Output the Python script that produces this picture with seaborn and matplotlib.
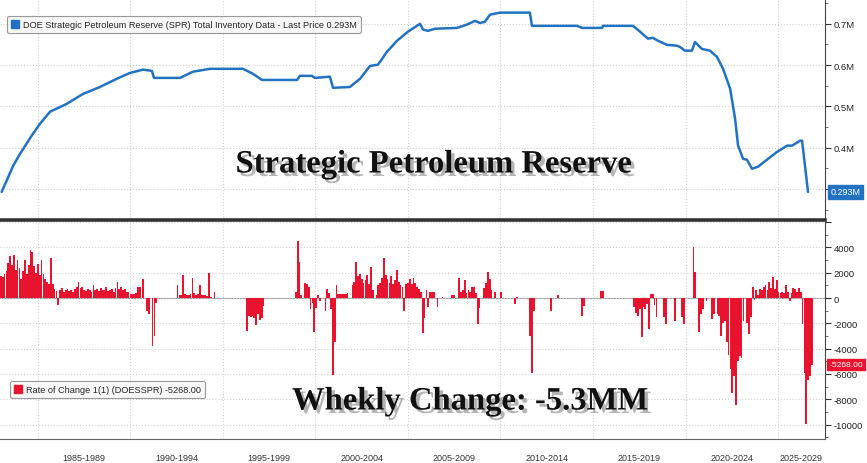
import numpy as np
import matplotlib
matplotlib.use("Agg")
import matplotlib.pyplot as plt
import matplotlib.patheffects as pe
from matplotlib.patches import Patch
from matplotlib.ticker import MultipleLocator, FuncFormatter
import seaborn as sns

# SPR inventory (millions of barrels shown as "M" on the axis)
spr_year = [1983.04, 1983.66, 1984.03, 1984.66, 1985.11, 1985.65, 1986.55, 1987.43, 1988.35, 1989.27,
            1989.97, 1990.68, 1991.16, 1991.27, 1992.68, 1993.38, 1994.30, 1996.08, 1996.62, 1997.11,
            1999.00, 1999.16, 1999.81, 1999.97, 2000.78, 2000.95, 2001.86, 2002.41, 2002.95, 2003.38,
            2003.86, 2004.41, 2005.00, 2005.65, 2005.81, 2006.08, 2006.46, 2007.65, 2008.19, 2008.62,
            2008.89, 2009.16, 2009.43, 2009.97, 2011.59, 2011.70, 2012.68, 2014.14, 2014.41, 2015.49,
            2015.54, 2017.16, 2017.54, 2017.97, 2018.24, 2018.51, 2019.00, 2019.54, 2019.70, 2019.97,
            2020.35, 2020.51, 2020.89, 2021.32, 2021.70, 2022.03, 2022.41, 2022.68, 2022.84, 2023.11,
            2023.32, 2023.59, 2023.92, 2024.46, 2024.95, 2025.49, 2025.76, 2026.19, 2026.30, 2026.62]
spr_level = [0.293, 0.356, 0.385, 0.429, 0.458, 0.487, 0.506, 0.530, 0.547, 0.567,
             0.581, 0.589, 0.586, 0.569, 0.569, 0.584, 0.591, 0.591, 0.579, 0.564,
             0.564, 0.574, 0.574, 0.569, 0.572, 0.545, 0.547, 0.567, 0.598, 0.601,
             0.632, 0.659, 0.681, 0.700, 0.686, 0.683, 0.688, 0.690, 0.698, 0.707,
             0.702, 0.705, 0.722, 0.727, 0.727, 0.695, 0.695, 0.695, 0.690, 0.690,
             0.695, 0.695, 0.681, 0.664, 0.666, 0.659, 0.649, 0.647, 0.644, 0.635,
             0.635, 0.656, 0.639, 0.635, 0.620, 0.591, 0.543, 0.470, 0.405, 0.373,
             0.371, 0.349, 0.354, 0.373, 0.390, 0.405, 0.405, 0.417, 0.417, 0.293]

# weekly change (thousand bbl), one value per ~0.1 year, grouped by stretch of activity
roc_start = [1982.95, 1992.50, 1996.25, 1998.89, 2001.95, 2006.82, 2007.72, 2009.07,
             2010.73, 2011.56, 2012.68, 2014.36, 2015.38, 2017.18]
roc_1983 = [1700, 1650, 1900, 2100, 2800, 3300, 2600, 3400, 2200, 3000, 2350, 1500, 2100, 3000, 1900,
            2600, 3800, 3600, 2500, 2000, 2700, 1800, 3000, 1900, 1500, 1300, 1100, 3200, 1100, 700,
            550, -590, 600, 800, 500, 650, 700, 550, 600, 500, 750, 900, 1250, 800, 900, 600, 550,
            700, 650, 500, 1000, 600, 700, 550, 800, 600, 650, 900, 550, 600, 700, 500, 800, 1250,
            700, 900, 600, 700, 500, 450, 350, 350, 300, 400, 900, 850, 0, 1470, 0, -1000, -1250,
            0, -3800, -3000, -400]
roc_1992 = [1000, 200, 250, 1800, 300, 200, 250, 300, 1550, 400, 250, 300, 1000, 200, 250, 200,
            150, 1950, 100, 0, 480]
roc_1996 = [-2600, -1400, -1500, -1400, -1600, -2100, -1300, -1700, -1600, -600]
roc_1998 = [480, 4480, 2880, 200, 0, 1150, 1100, 900, -850, -400, -2700, -800, 250, -200, 0, 0,
            -990, 750, 400, -850, -6050, -3500, 1010, 300, 300, 350, 350, 300, 400]
roc_2002 = [1000, 1300, 2880, 1700, 1900, 1500, 1200, 1400, 1800, 1100, 2480, 600, 0, 200, 1000,
            1200, 1600, 3200, 1800, 1500, 1200, 1700, 1100, 1400, 2210, 1300, 1000, 900, -990, 1100,
            1200, 1500, 1100, 1600, 1200, 900, 700, 500, -2770, -1600, 600, -700, 450, 500, 480, 0,
            -720]
roc_2006 = [100, 0, 0, 0, 0, 210, 200]
roc_2007 = [1550, 500, 600, 1400, 400, 600, 500, 900, 880, 400, -2050, -800]
roc_2009 = [800, 1200, 2030, 1500, 600, 0, 480, 0, 0, 480]
roc_2010 = [-450, 100]
roc_2011 = [-3000, -5920, -1000]
roc_2012 = [-990, 0, 0, 0, 270]
roc_2014 = [-1390, -600]
roc_2015 = [530, 530]
roc_2017 = [-700, -1200, -1400, -900, -3120, -700, -900, -500, -2450, 350, 350, -590, -1520, 0, 0,
            0, -1500, -2050, 0, 0, 0, 0, -1790, 0, 0, 0, -1500, -2050, 0, 0, 0, 0, 4000, 2080, 0,
            -2720, -1300, -900, 0, -200, 0, 0, -1650, -1300, 0, -1250, -1400, -2990, -2000, -1800,
            -3500, -4500, -5650, -7500, -6200, -8450, -5000, -4600, -4720, -1800, 0, -2000, -2850,
            -1500, 880, -190, 650, 200, 700, 600, 900, 1010, 600, 1280, 800, 1680, 700, 1410, 500,
            400, 500, 400, 1000, 500, -200, 400, 800, 700, 500, 800, 500, -2050, -5920, -9920,
            -6450, -6190, -5268]
roc_groups = [roc_1983, roc_1992, roc_1996, roc_1998, roc_2002, roc_2006, roc_2007, roc_2009,
              roc_2010, roc_2011, roc_2012, roc_2014, roc_2015, roc_2017]
roc_step = 0.1

period_edges = [1985, 1990, 1995, 2000, 2005, 2010, 2015, 2020, 2025]
period_labels = ["1985-1989", "1990-1994", "1995-1999", "2000-2004", "2005-2009",
                 "2010-2014", "2015-2019", "2020-2024", "2025-2029"]

last_level = 0.293
last_roc = -5268.00

blue = "#2272c3"
red = "#e8142f"
grid_kw = dict(color="#cfcfcf", linestyle=":", linewidth=0.8)
small_font = ["Liberation Sans", "DejaVu Sans"]

sns.set_theme(style="white")
plt.rcParams['font.family'] = small_font

fig = plt.figure(figsize=(8.67, 4.64), dpi=100)
ax_top = fig.add_axes([0, 0.5237, 0.9516, 0.4763])
ax_bot = fig.add_axes([0, 0.0517, 0.9516, 0.4677])
x_lo, x_hi = 1982.95, 2027.54

# --- top panel: inventory line
sns.lineplot(x=spr_year, y=spr_level, ax=ax_top, color=blue, linewidth=1.8)
ax_top.set_xlim(x_lo, x_hi)
ax_top.set_ylim(0.225, 0.76)
ax_top.set_xticks(period_edges)
ax_top.tick_params(axis="x", length=0, labelbottom=False)
ax_top.yaxis.tick_right()
ax_top.yaxis.set_major_locator(MultipleLocator(0.1))
ax_top.yaxis.set_minor_locator(MultipleLocator(0.05))
ax_top.yaxis.set_major_formatter(FuncFormatter(lambda v, p: "" if v < 0.35 else f"{v:.1f}M"))
ax_top.tick_params(axis="y", which="major", length=4, width=0.8, color="#333", labelsize=6.8,
                   labelcolor="#222", pad=2, direction="out")
ax_top.tick_params(axis="y", which="minor", length=2.5, width=0.6, color="#555", direction="out")
ax_top.grid(True, which="major", **grid_kw)
for side in ["left", "top"]:
    ax_top.spines[side].set_visible(False)
ax_top.spines["right"].set_color("#444")
ax_top.spines["right"].set_linewidth(0.8)
ax_top.spines["bottom"].set_color("#333")
ax_top.spines["bottom"].set_linewidth(2.6)
ax_top.set_xlabel("")
ax_top.set_ylabel("")

# --- bottom panel: weekly change bars
for start, vals in zip(roc_start, roc_groups):
    xs = start + roc_step * np.arange(len(vals))
    ax_bot.bar(xs, vals, width=roc_step * 0.95, color=red, linewidth=0, align="edge")
ax_bot.axhline(0, color="#9a9a9a", linewidth=0.8, zorder=0.5)
ax_bot.set_xlim(x_lo, x_hi)
ax_bot.set_ylim(-11146, 6008)
ax_bot.yaxis.tick_right()
ax_bot.yaxis.set_major_locator(MultipleLocator(2000))
ax_bot.yaxis.set_minor_locator(MultipleLocator(1000))
ax_bot.yaxis.set_major_formatter(FuncFormatter(lambda v, p: "" if v > 5000 else f"{v:.0f}"))
ax_bot.tick_params(axis="y", which="major", length=4, width=0.8, color="#333", labelsize=6.8,
                   labelcolor="#222", pad=2, direction="out")
ax_bot.tick_params(axis="y", which="minor", length=2.5, width=0.6, color="#555", direction="out")
ax_bot.set_xticks(period_edges)
ax_bot.set_xticks(np.arange(1983, 2028), minor=True)
ax_bot.tick_params(axis="x", which="major", length=17, width=0.8, color="#666",
                   direction="out", labelbottom=False)
ax_bot.tick_params(axis="x", which="minor", length=2.5, width=0.6, color="#777", direction="in")
ax_bot.grid(True, which="major", **grid_kw)
for side in ["left", "top"]:
    ax_bot.spines[side].set_visible(False)
ax_bot.spines["right"].set_color("#444")
ax_bot.spines["right"].set_linewidth(0.8)
ax_bot.spines["bottom"].set_color("#666")
ax_bot.spines["bottom"].set_linewidth(0.8)

centers = [(a + b) / 2 for a, b in zip(period_edges, period_edges[1:] + [x_hi])]
for c, lab in zip(centers, period_labels):
    ax_bot.text(c, -0.085, lab, transform=ax_bot.get_xaxis_transform(), ha="center", va="center",
                fontsize=6.5, color="#333")

# legends
leg_font = dict(family=small_font, size=6.6)
lg = ax_top.legend(handles=[Patch(color=blue)],
                   labels=[f"DOE Strategic Petroleum Reserve (SPR) Total Inventory Data - Last Price {last_level}M"],
                   loc="upper left", bbox_to_anchor=(7 / 825, 1 - 17 / 221), borderaxespad=0,
                   prop=leg_font, handlelength=0.9, handleheight=0.9, handletextpad=0.4,
                   borderpad=0.45, fancybox=True, framealpha=1, facecolor="#f7f7f7", edgecolor="#999")
lg.get_frame().set_linewidth(0.8)
lg2 = ax_bot.legend(handles=[Patch(color=red)],
                    labels=[f"Rate of Change 1(1) (DOESSPR) {last_roc:.2f}"],
                    loc="upper left", bbox_to_anchor=(10 / 825, (440 - 382) / 217), borderaxespad=0,
                    prop=leg_font, handlelength=0.9, handleheight=0.9, handletextpad=0.4,
                    borderpad=0.45, fancybox=True, framealpha=1, facecolor="#f7f7f7", edgecolor="#999")
lg2.get_frame().set_linewidth(0.8)

# last value tags on the right axis
ax_top.annotate(f"{last_level}M", xy=(1, last_level), xycoords=("axes fraction", "data"),
                xytext=(4, 0), textcoords="offset points", ha="left", va="center",
                fontsize=6.5, color="white", annotation_clip=False,
                bbox=dict(boxstyle="square,pad=0.3", fc=blue, ec=blue))
ax_bot.annotate(f"{last_roc:.2f}", xy=(1, last_roc), xycoords=("axes fraction", "data"),
                xytext=(3, 0), textcoords="offset points", ha="left", va="center",
                fontsize=6.1, color="white", annotation_clip=False,
                bbox=dict(boxstyle="square,pad=0.25", fc=red, ec=red))

# headline captions
shadow = [pe.withSimplePatchShadow(offset=(2.5, -2.5), shadow_rgbFace="#777", alpha=0.55)]
ax_top.text(433.5 / 825, (221 - 165) / 221, "Strategic Petroleum Reserve", transform=ax_top.transAxes,
            ha="center", va="center", fontsize=23.5, fontweight="bold",
            family=["Liberation Serif", "DejaVu Serif"], color="#111", path_effects=shadow)
ax_bot.text(470 / 825, (440 - 402) / 217, "Whekly Change: -5.3MM", transform=ax_bot.transAxes,
            ha="center", va="center", fontsize=23.5, fontweight="bold",
            family=["Liberation Serif", "DejaVu Serif"], color="#111", path_effects=shadow)

fig.savefig("out.png", dpi=100)
